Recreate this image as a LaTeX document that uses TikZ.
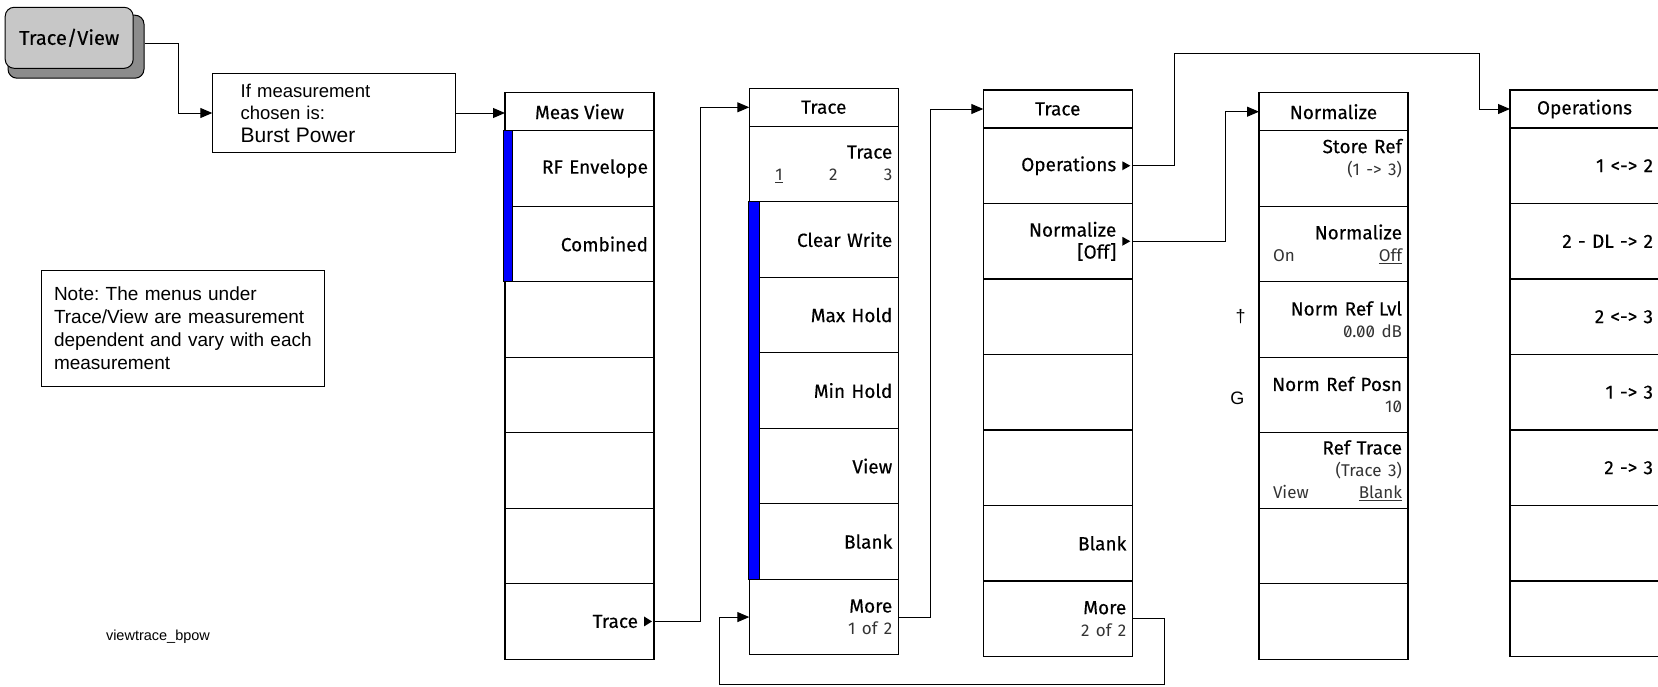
\documentclass[tikz,border=0pt]{standalone}
\usepackage{fontspec}
\setmainfont{Liberation Sans}
\newfontfamily\keyfont[FakeBold=0.3]{Fira Sans}
\newfontfamily\subfont[Numbers=SlashedZero]{Fira Sans}
\usepackage{tikz}
\usetikzlibrary{positioning,arrows.meta}
\frenchspacing

\newcommand{\subtxt}{\subfont\fontsize{17}{22}\selectfont\color{black!80}}
\newcommand{\splitrow}[2]{\hbox to\hsize{\subtxt\hskip8pt #1\hfil #2}}

\tikzset{
  softhead/.style={draw, line width=1.1pt, minimum width=149pt, minimum height=38pt,
                   inner sep=0pt, outer sep=0pt, font=\keyfont\fontsize{19}{22}\selectfont},
  softkey/.style={draw, line width=1.1pt, minimum width=149pt, minimum height=75.5pt,
                  inner xsep=6pt, inner ysep=0pt, outer sep=0pt, text width=137pt, align=right,
                  font=\keyfont\fontsize{19}{22}\selectfont},
  hardkey/.style={draw, line width=1pt, rounded corners=9pt, minimum width=128pt, minimum height=61pt,
                  fill=black!22, font=\keyfont\fontsize{20}{22}\selectfont},
  hardback/.style={draw, line width=1pt, rounded corners=9pt, minimum width=136pt, minimum height=63pt,
                   fill=black!45},
  textbox/.style={draw, line width=1pt, align=left, inner sep=0pt},
  conn/.style={-{Triangle[length=12pt, width=10pt]}, line width=1pt},
  selbar/.style={draw=black, fill=blue, line width=0.8pt},
}

\begin{document}
\begin{tikzpicture}[x=1pt, y=-1pt]
  \useasboundingbox (0,0) rectangle (1658,686);

  % front panel key and the notes
  \node[hardback] (tvb) at (76,46.7) {};
  \node[hardkey] (tv) at (69.2,37.8) {Trace/View};
  \node[textbox, anchor=north west, text width=187pt, minimum width=242.7pt, minimum height=78.4pt,
        font=\fontsize{18.5}{22.5}\selectfont] (ifbox) at (212.3,73.3)
        {If measurement\\chosen is:\\{\fontsize{21}{23}\selectfont Burst Power}};
  \node[textbox, anchor=north west, text width=258pt, minimum width=283.6pt, minimum height=116pt,
        font=\fontsize{19}{23}\selectfont] (note) at (40.7,270)
        {Note: The menus under\\Trace/View are measurement\\dependent and vary with each\\measurement};
  \node[font=\fontsize{14.5}{16}\selectfont] (figname) at (158,637) {viewtrace\_bpow};

  % Meas View menu
  \node[softhead, anchor=north west] (mv0) at (505,92.7) {Meas View};
  \foreach \txt [count=\i, remember=\i as \j (initially 0)] in
      {{RF Envelope},{Combined},{},{},{},{},{Trace\kern10pt}}
    \node[softkey, below=0pt of mv\j] (mv\i) {\txt};

  % Trace menu, 1 of 2
  \node[softhead, anchor=north west] (tra0) at (749.3,88.3) {Trace};
  \foreach \txt [count=\i, remember=\i as \j (initially 0)] in
      {{Trace\\\hbox to\hsize{\subtxt\hskip20pt\underline{1}\hfil 2\hfil 3}},
       {Clear Write},{Max Hold},{Min Hold},{View},{Blank},{More\\{\subtxt 1 of 2}}}
    \node[softkey, below=0pt of tra\j] (tra\i) {\txt};

  % Trace menu, 2 of 2
  \node[softhead, anchor=north west] (trb0) at (983.3,90) {Trace};
  \foreach \txt [count=\i, remember=\i as \j (initially 0)] in
      {{Operations\kern10pt},{Normalize\kern10pt\\{[Off]\kern10pt}},{},{},{},{Blank},{More\\{\subtxt 2 of 2}}}
    \node[softkey, below=0pt of trb\j] (trb\i) {\txt};

  % Normalize menu
  \node[softhead, anchor=north west] (nm0) at (1259,92.7) {Normalize};
  \foreach \txt [count=\i, remember=\i as \j (initially 0)] in
      {{Store Ref\\{\subtxt (1 -> 3)}\rule[-23pt]{0pt}{23pt}},
       {Normalize\\\splitrow{On}{\underline{Off}}},
       {Norm Ref Lvl\\{\subtxt 0.00 dB}},
       {Norm Ref Posn\\{\subtxt 10}},
       {Ref Trace\\{\subtxt (Trace 3)}\\\splitrow{View}{\underline{Blank}}},
       {},{}}
    \node[softkey, below=0pt of nm\j] (nm\i) {\txt};
  \node[font=\fontsize{18}{20}\selectfont] (dag) at (1240.7,316.7) {\textdagger};
  \node[font=\fontsize{18}{20}\selectfont] (gmark) at (1237.3,398) {G};

  % Operations menu
  \node[softhead, anchor=north west] (op0) at (1510,90) {Operations};
  \foreach \txt [count=\i, remember=\i as \j (initially 0)] in
      {{1 <-> 2},{2 - DL -> 2},{2 <-> 3},{1 -> 3},{2 -> 3},{},{}}
    \node[softkey, below=0pt of op\j] (op\i) {\txt};

  % active key bars
  \draw[selbar] ([xshift=-1.7pt]mv1.north west) rectangle ([xshift=7.3pt]mv2.south west);
  \draw[selbar] ([xshift=-0.5pt]tra2.north west) rectangle ([xshift=9.7pt]tra6.south west);

  % submenu marks
  \fill ([xshift=-2pt]mv7.east) -- ++(-8,-5) -- ++(0,10) -- cycle;
  \fill ([xshift=-2pt]trb1.east) -- ++(-8,-4.5) -- ++(0,9) -- cycle;
  \fill ([xshift=-2pt]trb2.east) -- ++(-8,-4.5) -- ++(0,9) -- cycle;

  % connectors
  \draw[conn] ([yshift=3.4pt]tvb.east) -- ++(34,0) |- (ifbox.west);
  \draw[conn] (ifbox.east) -- (ifbox.east -| mv0.west);
  \draw[conn] (mv7.east) -- ++(46.7,0) |- (tra0.west);
  \draw[conn] (tra7.east) -- ++(31.7,0) |- (trb0.west);
  \coordinate (loop) at (719,684.3);
  \draw[conn] (trb7.east) -- ++(32,0) |- (loop) |- (tra7.west);
  \draw[conn] (trb1.east) -- ++(42,0) |- (1479,53.3) |- (op0.west);
  \draw[conn] (trb2.east) -- ++(93,0) |- (nm0.west);

\end{tikzpicture}
\end{document}
